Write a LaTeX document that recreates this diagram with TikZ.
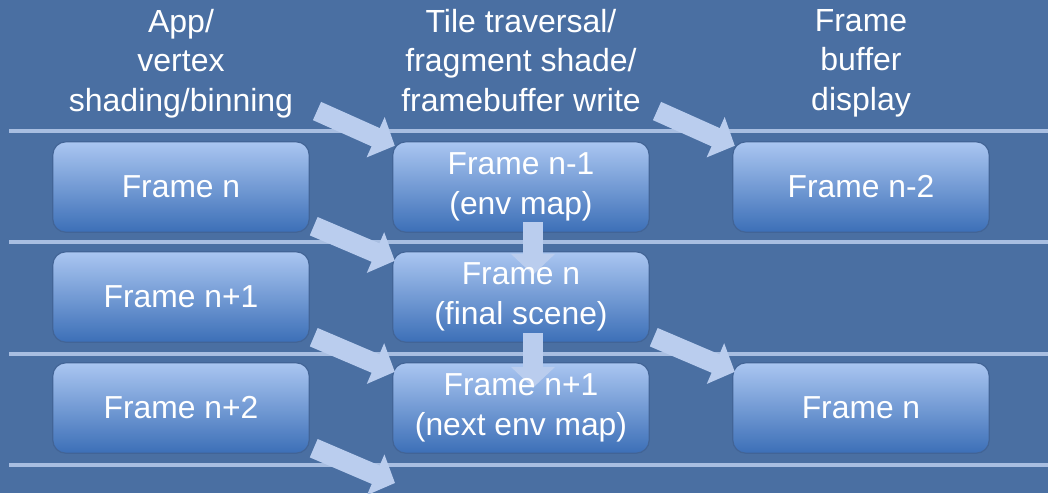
\documentclass[tikz,border=0pt]{standalone}
\usepackage{fontspec}
\setmainfont{Liberation Sans}
\usetikzlibrary{arrows.meta}
\definecolor{bgblue}{RGB}{74,111,162}
\definecolor{linecol}{RGB}{168,190,225}
\definecolor{boxtop}{RGB}{170,198,241}
\definecolor{boxmid}{RGB}{136,169,224}
\definecolor{boxbot}{RGB}{60,111,183}
\definecolor{boxedge}{RGB}{66,100,150}
\definecolor{arrowcol}{RGB}{186,205,238}
\pgfdeclarelayer{back}
\pgfdeclarelayer{mid}
\pgfsetlayers{back,mid,main}
\begin{document}
\begin{tikzpicture}[x=1pt,y=-1pt,
    boxfill/.style={rounded corners=13, top color=boxtop, middle color=boxmid, bottom color=boxbot,
        draw=boxedge, line width=1.2},
    framebox/.style={minimum width=256, minimum height=90, inner sep=0pt,
        text=white, align=center, font=\fontsize{31.8}{40}\selectfont,
        append after command={\pgfextra{\begin{pgfonlayer}{back}
            \path[boxfill] (\tikzlastnode.south west) rectangle (\tikzlastnode.north east);
            \end{pgfonlayer}}}},
    heading/.style={anchor=north, inner sep=0pt, text=white, align=center, font=\fontsize{32}{39.5}\selectfont},
    rowline/.style={draw=linecol, line width=4},
    fatarrow/.style={draw=arrowcol, line width=20, -{Triangle[length=21pt,width=43pt]}}]
        \clip (0,0) rectangle (1048,493);
        \begin{pgfonlayer}{back}
        \fill[bgblue] (0,0) rectangle (1048,493);
        % row separators
        \foreach \y in {131,242,354,465}
            \draw[rowline] (9,\y) -- (1048,\y);
        \end{pgfonlayer}
        % column headings
        \node[heading] (hdapp) at (181,9) {App/\\vertex\\shading/binning};
        \node[heading] (hdtile) at (521,9) {Tile traversal/\\fragment shade/\\framebuffer write};
        \node[heading] (hddisp) at (861,9) {Frame\\buffer\\display};
        % frames
        \node[framebox] (app1) at (181,187) {Frame n};
        \node[framebox] (app2) at (181,297) {Frame n+1};
        \node[framebox] (app3) at (181,408) {Frame n+2};
        \node[framebox] (tile1) at (521,187) {Frame n-1\\(env map)};
        \node[framebox] (tile2) at (521,297) {Frame n\\(final scene)};
        \node[framebox] (tile3) at (521,408) {Frame n+1\\(next env map)};
        \node[framebox] (disp1) at (861,187) {Frame n-2};
        \node[framebox] (disp3) at (861,408) {Frame n};
        \coordinate (hdout1) at (317,111);
        \coordinate (hdout2) at (657,111);
        \coordinate (tilein4) at (395,483);
        % hand-offs, under the frame texts
        \begin{pgfonlayer}{mid}
        \draw[fatarrow] (hdout1) -- ([shift={(2,4)}]tile1.north west);
        \draw[fatarrow] (hdout2) -- ([shift={(2,4)}]disp1.north west);
        \draw[fatarrow] ([shift={(4.5,-6)}]app1.south east) -- ([shift={(2,9)}]tile2.north west);
        \draw[fatarrow] ([shift={(4.5,-5)}]app2.south east) -- ([shift={(2,9)}]tile3.north west);
        \draw[fatarrow] ([shift={(4.5,-5)}]app3.south east) -- (tilein4);
        \draw[fatarrow] ([shift={(4.5,-5)}]tile2.south east) -- ([shift={(2,9)}]disp3.north west);
        \draw[fatarrow] ([shift={(12,-10)}]tile1.south) -- ([shift={(12,23)}]tile2.north);
        \draw[fatarrow] ([shift={(12,-9)}]tile2.south) -- ([shift={(12,25)}]tile3.north);
        \end{pgfonlayer}
\end{tikzpicture}
\end{document}
